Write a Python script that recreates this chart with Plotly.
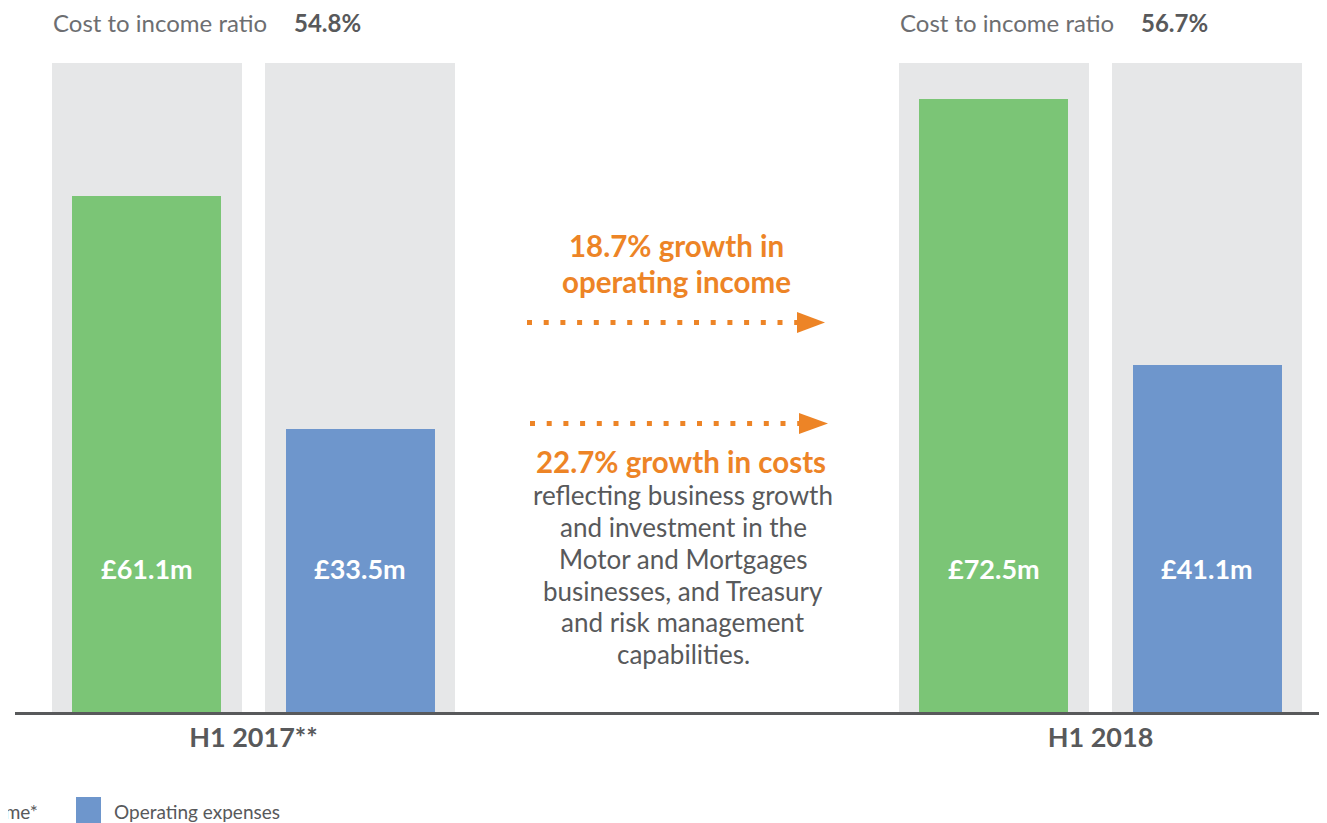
import plotly.graph_objects as go

# ---------------- data ----------------
periods = ["H1 2017**", "H1 2018"]
operating_income = [61.1, 72.5]      # £m
operating_expenses = [33.5, 41.1]    # £m
series_names = ["Operating income*", "Operating expenses"]
track_max = 76.8                     # height of the grey background columns

cost_income_ratio = [e / i * 100 for e, i in zip(operating_expenses, operating_income)]
income_growth = (operating_income[1] / operating_income[0] - 1) * 100
cost_growth = (operating_expenses[1] / operating_expenses[0] - 1) * 100

cost_lines = ["reflecting business growth", "and investment in the",
              "Motor and Mortgages", "businesses, and Treasury",
              "and risk management", "capabilities."]

# ---------------- style ----------------
GREEN = "#7bc576"
BLUE = "#6e96cc"
GREY = "#e6e7e8"
DARK = "#58595b"
LIGHT = "#6d6e71"
ORANGE = "#ed8426"
FONT = "Lato"

PAGE_OFF = 8                     # default body margin of the html page
W, H = 1327 - PAGE_OFF, 823 - PAGE_OFF
PLOT_L, PLOT_R, PLOT_T, PLOT_B = 15, 1327, 63, 712   # plot area in page pixels
ML = PLOT_L - PAGE_OFF
MR = 0
MT = PLOT_T - PAGE_OFF
MB = H - (PLOT_B - PAGE_OFF)
PW, PH = PLOT_R - PLOT_L, PLOT_B - PLOT_T
GROUP_PX = 847.0            # pixel distance between group centres
FIRST_CENTER_PX = 253.5


def px(x):
    return (x - PLOT_L) / PW


def py(y):
    return (PLOT_B - y) / PH


u = 1.0 / GROUP_PX  # one pixel in category units

fig = go.Figure()
bar_specs = [
    (operating_income, GREEN, -201.5 * u, -181.5 * u, series_names[0]),
    (operating_expenses, BLUE, 11.5 * u, 32.5 * u, series_names[1]),
]
for vals, color, grey_off, bar_off, name in bar_specs:
    fig.add_trace(go.Bar(x=periods, y=[track_max] * len(periods), width=190 * u,
                         offset=grey_off, marker=dict(color=GREY, line=dict(width=0)),
                         showlegend=False, hoverinfo="skip"))
    fig.add_trace(go.Bar(x=periods, y=vals, width=149 * u, offset=bar_off, name=name,
                         marker=dict(color=color, line=dict(width=0)), showlegend=False))

annotations = []
# value labels inside bars
label_y = 17.0
for i in range(len(periods)):
    for vals, centre in ((operating_income, -106.5 * u), (operating_expenses, 106.5 * u)):
        annotations.append(dict(x=i + centre, y=label_y, xref="x", yref="y",
                                text=f"<b>£{vals[i]}m</b>", showarrow=False,
                                font=dict(family=FONT, size=27, color="white"),
                                xanchor="center", yanchor="middle"))

# cost to income ratio headers (boxes start at the very top of the figure)
for i in range(len(periods)):
    left_px = FIRST_CENTER_PX + i * GROUP_PX - 201.5
    annotations.append(dict(x=px(left_px), y=py(PAGE_OFF), xref="paper", yref="paper",
                            text="Cost to income ratio", showarrow=False,
                            font=dict(family=FONT, size=24, color=LIGHT),
                            xanchor="left", yanchor="top", height=26,
                            valign="middle", borderpad=0))
    annotations.append(dict(x=px(left_px + 241), y=py(PAGE_OFF), xref="paper", yref="paper",
                            text=f"<b>{cost_income_ratio[i]:.1f}%</b>", showarrow=False,
                            font=dict(family=FONT, size=24, color=DARK),
                            xanchor="left", yanchor="top", height=26,
                            valign="middle", borderpad=0))

# middle commentary
for txt, yc in ((f"{income_growth:.1f}% growth in", 246), ("operating income", 281)):
    annotations.append(dict(x=px(677), y=py(yc), xref="paper", yref="paper",
                            text=f"<b>{txt}</b>", showarrow=False,
                            font=dict(family=FONT, size=29.5, color=ORANGE),
                            xanchor="center", yanchor="middle"))
annotations.append(dict(x=px(681), y=py(461), xref="paper", yref="paper",
                        text=f"<b>{cost_growth:.1f}% growth in costs</b>",
                        showarrow=False,
                        font=dict(family=FONT, size=29.5, color=ORANGE),
                        xanchor="center", yanchor="middle"))
for txt, yc in zip(cost_lines, (495, 527, 559, 591, 622, 654)):
    annotations.append(dict(x=px(683), y=py(yc), xref="paper", yref="paper",
                            text=txt, showarrow=False,
                            font=dict(family=FONT, size=26, color=DARK),
                            xanchor="center", yanchor="middle"))

# legend (cropped at the left edge like the reference)
annotations.append(dict(x=px(40), y=py(811), xref="paper", yref="paper",
                        text=series_names[0], showarrow=False,
                        font=dict(family=FONT, size=19, color=DARK),
                        xanchor="right", yanchor="middle"))
annotations.append(dict(x=px(112), y=py(811), xref="paper", yref="paper",
                        text=series_names[1], showarrow=False,
                        font=dict(family=FONT, size=19, color=DARK),
                        xanchor="left", yanchor="middle"))

shapes = []
# dotted arrows
for (x0, x1, xh0, xh1, yc) in ((527, 800, 797, 825, 322.5), (530, 803, 799, 828, 423.5)):
    shapes.append(dict(type="line", xref="paper", yref="paper",
                       x0=px(x0), x1=px(x1), y0=py(yc), y1=py(yc),
                       line=dict(color=ORANGE, width=5, dash="5px,11.7px")))
    shapes.append(dict(type="path", xref="paper", yref="paper",
                       path=f"M{px(xh0)},{py(yc - 10.5)} L{px(xh1)},{py(yc)} L{px(xh0)},{py(yc + 10.5)} Z",
                       fillcolor=ORANGE, line=dict(width=0)))
# legend swatches
shapes.append(dict(type="rect", xref="paper", yref="paper",
                   x0=px(76), x1=px(101), y0=py(797), y1=py(840),
                   fillcolor=BLUE, line=dict(width=0)))
shapes.append(dict(type="rect", xref="paper", yref="paper",
                   x0=px(-150), x1=px(-125), y0=py(797), y1=py(840),
                   fillcolor=GREEN, line=dict(width=0)))

fig.update_layout(
    width=W, height=H,
    margin=dict(l=ML, r=MR, t=MT, b=MB, autoexpand=False),
    paper_bgcolor="white", plot_bgcolor="white",
    barmode="overlay", bargap=0,
    showlegend=False,
    annotations=annotations, shapes=shapes,
    xaxis=dict(type="category",
               range=[-(FIRST_CENTER_PX - PLOT_L) / GROUP_PX,
                      1 + (PLOT_R - FIRST_CENTER_PX - GROUP_PX) / GROUP_PX],
               showline=True, linecolor=DARK, linewidth=3, ticks="",
               showgrid=False, zeroline=False,
               tickfont=dict(family=FONT, size=27, color=DARK, weight="bold"),
               ticklabelstandoff=0),
    yaxis=dict(range=[0, track_max], visible=False, fixedrange=True),
)

fig.write_html("out.html")
